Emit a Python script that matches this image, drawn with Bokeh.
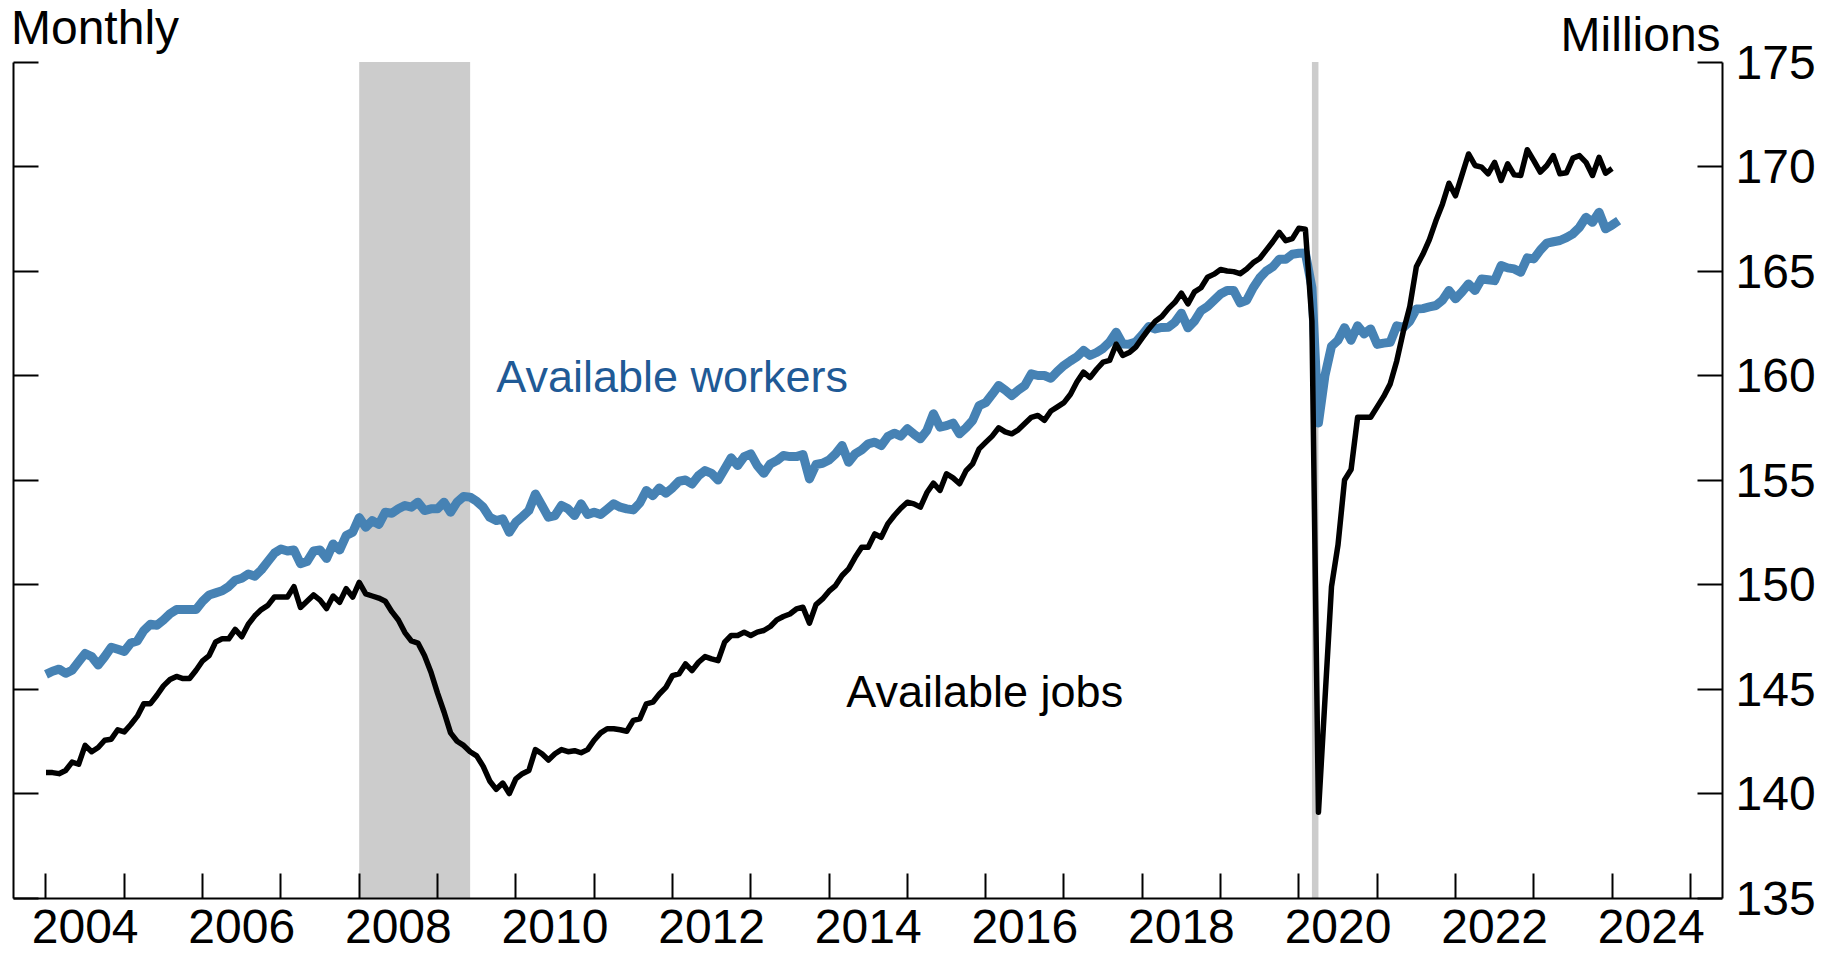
import numpy as np
from bokeh.plotting import figure
from bokeh.models import LinearAxis, FixedTicker, Label, BoxAnnotation, Range1d
from bokeh.embed import file_html
from bokeh.resources import INLINE

# ---- data (monthly, millions), first month = Jan 2004 ----
start_year = 2004
available_jobs = [
    141.0, 141.0, 140.95, 141.1, 141.5, 141.4, 142.3, 142.0, 142.2, 142.55, 142.6, 143.05,   # 2004
    142.95, 143.3, 143.7, 144.3, 144.3, 144.7, 145.15, 145.45, 145.6, 145.5, 145.5, 145.9,  # 2005
    146.35, 146.6, 147.25, 147.4, 147.4, 147.85, 147.5, 148.1, 148.5, 148.8, 149.0, 149.4,  # 2006
    149.4, 149.4, 149.9, 148.9, 149.2, 149.5, 149.25, 148.85, 149.45, 149.15, 149.8, 149.4,  # 2007
    150.1, 149.55, 149.45, 149.35, 149.2, 148.7, 148.3, 147.7, 147.3, 147.2, 146.6, 145.8,  # 2008
    144.8, 143.9, 142.9, 142.5, 142.3, 142.0, 141.8, 141.3, 140.6, 140.2, 140.5, 140.0,     # 2009
    140.7, 140.95, 141.1, 142.1, 141.9, 141.6, 141.9, 142.1, 142.0, 142.05, 141.95, 142.1,  # 2010
    142.55, 142.9, 143.1, 143.1, 143.05, 142.98, 143.5, 143.57, 144.29, 144.37, 144.76, 145.08,  # 2011
    145.64, 145.72, 146.2, 145.88, 146.28, 146.55, 146.44, 146.36, 147.24, 147.56, 147.56, 147.72,  # 2012
    147.56, 147.72, 147.8, 147.99, 148.31, 148.47, 148.59, 148.83, 148.91, 148.15, 149.04, 149.31,  # 2013
    149.68, 149.95, 150.43, 150.75, 151.3, 151.78, 151.78, 152.42, 152.26, 152.9, 153.3, 153.65,  # 2014
    153.94, 153.86, 153.7, 154.4, 154.85, 154.5, 155.3, 155.1, 154.82, 155.45, 155.77, 156.49,  # 2015
    156.8, 157.1, 157.5, 157.3, 157.21, 157.4, 157.7, 158.0, 158.09, 157.85, 158.3, 158.5,  # 2016
    158.7, 159.1, 159.7, 160.16, 159.9, 160.3, 160.64, 160.72, 161.5, 160.96, 161.1, 161.36,  # 2017
    161.8, 162.23, 162.6, 162.82, 163.2, 163.5, 163.94, 163.43, 164.0, 164.2, 164.7, 164.85,  # 2018
    165.07, 165.0, 164.97, 164.87, 165.1, 165.4, 165.6, 166.0, 166.4, 166.85, 166.45, 166.55,  # 2019
    167.05, 167.0, 162.6, 139.1, 144.5, 149.9, 151.9, 155.0, 155.5, 158.0, 158.0, 158.0,  # 2020
    158.5, 159.0, 159.6, 160.7, 162.1, 163.3, 165.2, 165.8, 166.5, 167.4, 168.2, 169.2,  # 2021
    168.6, 169.6, 170.6, 170.05, 169.97, 169.65, 170.2, 169.33, 170.13, 169.6, 169.57, 170.8,  # 2022
    170.28, 169.73, 170.05, 170.52, 169.65, 169.7, 170.4, 170.52, 170.2, 169.57, 170.44, 169.68,  # 2023
    169.9,  # 2024
]
available_workers = [
    145.7, 145.85, 145.95, 145.75, 145.9, 146.3, 146.7, 146.55, 146.15, 146.55, 147.0, 146.9,  # 2004
    146.8, 147.2, 147.3, 147.8, 148.1, 148.05, 148.3, 148.6, 148.8, 148.8, 148.8, 148.8,  # 2005
    149.2, 149.5, 149.6, 149.7, 149.9, 150.2, 150.3, 150.5, 150.4, 150.7, 151.1, 151.5,  # 2006
    151.7, 151.6, 151.65, 151.0, 151.1, 151.6, 151.65, 151.25, 151.94, 151.65, 152.34, 152.5,  # 2007
    153.2, 152.74, 153.06, 152.87, 153.46, 153.41, 153.62, 153.78, 153.7, 153.94, 153.54, 153.62,  # 2008
    153.62, 153.94, 153.46, 153.94, 154.21, 154.18, 153.98, 153.7, 153.22, 153.06, 153.14, 152.5,  # 2009
    152.98, 153.25, 153.54, 154.33, 153.78, 153.22, 153.3, 153.78, 153.62, 153.3, 153.86, 153.35,  # 2010
    153.46, 153.35, 153.6, 153.86, 153.7, 153.62, 153.57, 153.9, 154.5, 154.25, 154.62, 154.37,  # 2011
    154.62, 154.94, 155.0, 154.81, 155.21, 155.45, 155.32, 155.0, 155.53, 156.06, 155.69, 156.12,  # 2012
    156.25, 155.69, 155.32, 155.77, 155.93, 156.17, 156.12, 156.12, 156.22, 155.05, 155.74, 155.8,  # 2013
    155.96, 156.25, 156.65, 155.85, 156.25, 156.44, 156.73, 156.81, 156.65, 157.08, 157.24, 157.1,  # 2014
    157.45, 157.2, 156.97, 157.37, 158.17, 157.53, 157.6, 157.72, 157.21, 157.5, 157.85, 158.56,  # 2015
    158.7, 159.1, 159.52, 159.3, 159.04, 159.3, 159.52, 160.08, 160.0, 160.0, 159.87, 160.2,  # 2016
    160.48, 160.7, 160.9, 161.2, 160.96, 161.1, 161.3, 161.6, 162.07, 161.51, 161.5, 161.6,  # 2017
    161.95, 162.34, 162.23, 162.3, 162.31, 162.55, 162.98, 162.28, 162.6, 163.1, 163.3, 163.6,  # 2018
    163.9, 164.07, 164.07, 163.48, 163.6, 164.2, 164.67, 165.0, 165.2, 165.56, 165.56, 165.8,  # 2019
    165.85, 165.86, 164.2, 157.73, 160.0, 161.4, 161.69, 162.29, 161.69, 162.38, 161.99, 162.23,  # 2020
    161.49, 161.55, 161.59, 162.38, 162.3, 162.6, 163.18, 163.2, 163.28, 163.35, 163.6, 164.07,  # 2021
    163.67, 164.0, 164.38, 164.07, 164.62, 164.58, 164.54, 165.26, 165.15, 165.1, 164.94, 165.63,  # 2022
    165.58, 166.0, 166.33, 166.4, 166.46, 166.6, 166.78, 167.09, 167.57, 167.33, 167.81, 167.02,  # 2023
    167.2, 167.41,  # 2024
]
recession_start = ["2008-01", "2020-03"]
recession_end = ["2009-06", "2020-04"]
y_ticks = [135, 140, 145, 150, 155, 160, 165, 170, 175]
x_tick_years = list(range(2004, 2026))
x_label_years = list(range(2004, 2025, 2))

Y_MIN, Y_MAX = 135, 175           # axis extent
X_MIN, X_MAX = 2003.585, 2025.41  # axis extent


def ym(s):
    y, m = s.split("-")
    return int(y) + (int(m) - 1) / 12.0


jobs_x = start_year + np.arange(len(available_jobs)) / 12.0
workers_x = start_year + np.arange(len(available_workers)) / 12.0

FONT = "Liberation Sans"

p = figure(width=1829, height=955,
           x_range=Range1d(2003.419, X_MAX), y_range=Range1d(132.249, 177.943),
           output_backend="svg", toolbar_location=None,
           y_axis_location="right",
           min_border_left=0, min_border_right=107, min_border_top=0, min_border_bottom=0)
p.outline_line_color = None
p.grid.visible = False
p.background_fill_color = "white"
p.border_fill_color = "white"

# recession shading
for s, e in zip(recession_start, recession_end):
    p.add_layout(BoxAnnotation(left=ym(s), right=ym(e), bottom=Y_MIN, top=Y_MAX,
                               fill_color="#cccccc", fill_alpha=1.0, line_color=None,
                               level="underlay"))

# right axis (labelled)
ya = p.yaxis[0]
ya.ticker = FixedTicker(ticks=y_ticks, minor_ticks=[])
ya.bounds = (Y_MIN, Y_MAX)
ya.major_tick_in = 25
ya.major_tick_out = 0
ya.minor_tick_in = 0
ya.minor_tick_out = 0
ya.axis_line_width = 2
ya.major_tick_line_width = 2
ya.axis_line_color = "black"
ya.major_tick_line_color = "black"
ya.major_label_text_font = FONT
ya.major_label_text_font_size = "48px"
ya.major_label_text_color = "black"
ya.major_label_standoff = 13

# left axis (ticks only, drawn as minor ticks so no labels)
la = LinearAxis(ticker=FixedTicker(ticks=[], minor_ticks=y_ticks),
                fixed_location=X_MIN, bounds=(Y_MIN, Y_MAX),
                major_tick_in=0, major_tick_out=0, minor_tick_in=25, minor_tick_out=0,
                axis_line_width=2, minor_tick_line_width=2,
                axis_line_color="black", minor_tick_line_color="black")
p.add_layout(la, "left")

# bottom axis: ticks at year starts, labels centred in even years
xa = p.xaxis[0]
xa.fixed_location = Y_MIN
xa.bounds = (X_MIN, X_MAX)
xa.ticker = FixedTicker(ticks=[y + 0.5 for y in x_label_years], minor_ticks=x_tick_years)
xa.major_label_overrides = {y + 0.5: str(y) for y in x_label_years}
xa.major_tick_in = 0
xa.major_tick_out = 0
xa.minor_tick_in = 25
xa.minor_tick_out = 0
xa.minor_tick_line_width = 2
xa.minor_tick_line_color = "black"
xa.axis_line_width = 2
xa.axis_line_color = "black"
xa.major_label_text_font = FONT
xa.major_label_text_font_size = "48px"
xa.major_label_text_color = "black"
xa.major_label_standoff = 12

# series
p.line(workers_x, available_workers, line_color="#4682b4", line_width=9, line_join="round")
p.line(jobs_x, available_jobs, line_color="black", line_width=5.5, line_join="round")

# texts
p.add_layout(Label(x=2003.553, y=176.64, text="Monthly", text_font=FONT, text_font_size="48px",
                   text_baseline="alphabetic", text_align="left", text_color="black"))
p.add_layout(Label(x=2025.386, y=176.32, text="Millions", text_font=FONT, text_font_size="48px",
                   text_baseline="alphabetic", text_align="right", text_color="black"))
p.add_layout(Label(x=2009.75, y=159.95, text="Available workers", text_font=FONT,
                   text_font_size="45px", text_baseline="middle", text_align="left",
                   text_color="#1f5a96"))
p.add_layout(Label(x=2014.22, y=144.88, text="Available jobs", text_font=FONT,
                   text_font_size="45px", text_baseline="middle", text_align="left",
                   text_color="black"))

open("out.html", "w").write(file_html(p, INLINE))
